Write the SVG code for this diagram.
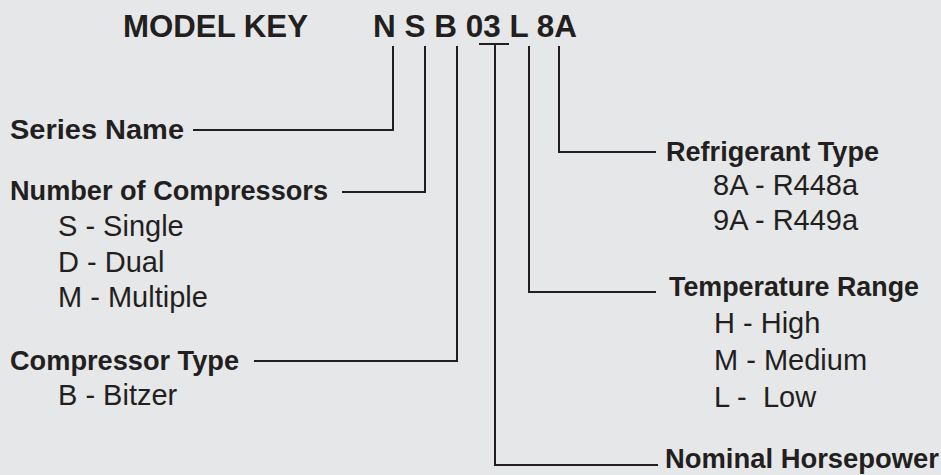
<svg xmlns="http://www.w3.org/2000/svg" width="941" height="475" viewBox="0 0 941 475">
<style>
text{font-family:"Liberation Sans",Arial,sans-serif;fill:#231f20}
.t{font-size:31px;font-weight:bold}
.h{font-size:27px;font-weight:bold}
.s{font-size:29px}
.c{fill:none;stroke:#231f20;stroke-width:2}
</style>
<rect width="941" height="475" fill="#e6e7e8"/>
<g id="title">
<text class="t" x="123" y="37" textLength="185" lengthAdjust="spacingAndGlyphs">MODEL KEY</text>
<text class="t" x="373" y="37" textLength="204" lengthAdjust="spacingAndGlyphs">N S B 03 L 8A</text>
</g>
<g id="connectors">
<polyline class="c" points="193,130 393,130 393,46"/>
<polyline class="c" points="342,192 425,192 425,46"/>
<polyline class="c" points="254,361 457,361 457,46"/>
<line class="c" x1="479" y1="44" x2="509" y2="44"/>
<polyline class="c" points="658,465 495,465 495,44"/>
<polyline class="c" points="656,292 529,292 529,46"/>
<polyline class="c" points="656,152 559,152 559,46"/>
</g>
<g id="series-name">
<text class="h" x="10" y="139" textLength="174" lengthAdjust="spacingAndGlyphs">Series Name</text>
</g>
<g id="number-of-compressors">
<text class="h" x="10" y="200" textLength="318" lengthAdjust="spacingAndGlyphs">Number of Compressors</text>
<text class="s" x="58" y="236">S - Single</text>
<text class="s" x="58" y="272">D - Dual</text>
<text class="s" x="58" y="307">M - Multiple</text>
</g>
<g id="compressor-type">
<text class="h" x="10" y="370" textLength="229" lengthAdjust="spacingAndGlyphs">Compressor Type</text>
<text class="s" x="58" y="405">B - Bitzer</text>
</g>
<g id="refrigerant-type">
<text class="h" x="666" y="161" textLength="213" lengthAdjust="spacingAndGlyphs">Refrigerant Type</text>
<text class="s" x="713" y="195">8A - R448a</text>
<text class="s" x="713" y="230">9A - R449a</text>
</g>
<g id="temperature-range">
<text class="h" x="669" y="296" textLength="250" lengthAdjust="spacingAndGlyphs">Temperature Range</text>
<text class="s" x="714" y="333">H - High</text>
<text class="s" x="714" y="370">M - Medium</text>
<text class="s" x="714" y="407" xml:space="preserve">L -  Low</text>
</g>
<g id="nominal-horsepower">
<text class="h" x="665" y="468" textLength="274" lengthAdjust="spacingAndGlyphs">Nominal Horsepower</text>
</g>
</svg>
